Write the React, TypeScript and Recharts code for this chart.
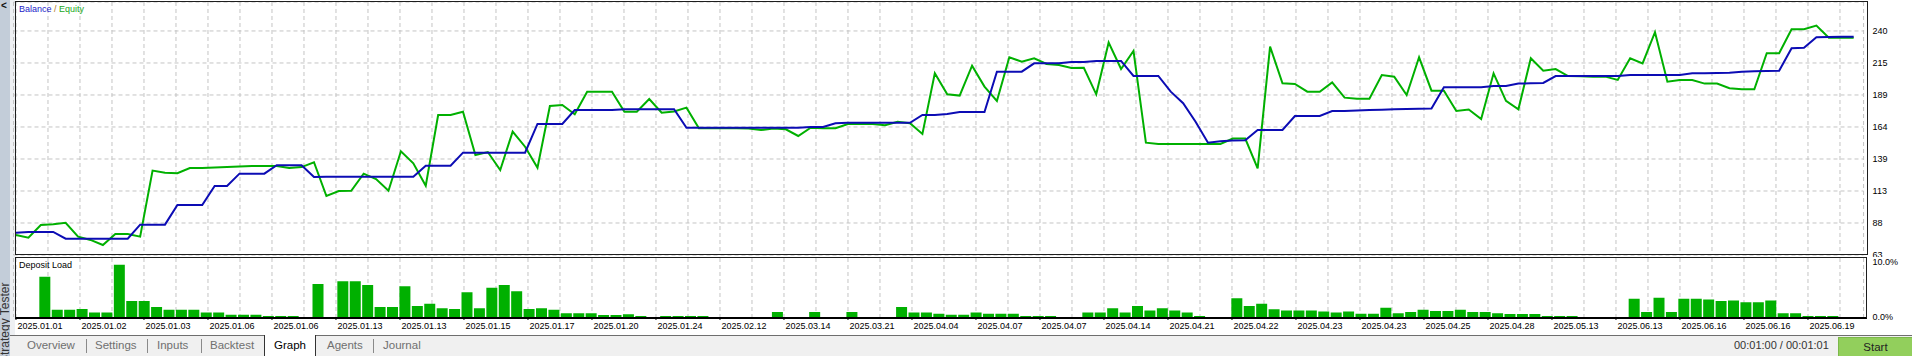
import React from 'react';
import { LineChart, ComposedChart, Line, Bar, XAxis, YAxis, CartesianGrid } from 'recharts';

// ---------- data ----------
const BALANCE = [
  80.6, 81.2, 81.2, 81.2, 75.9, 75.9, 75.9, 75.9, 75.9, 75.9,
  87, 87, 87, 102.5, 102.5, 102.5, 117.5, 117.5, 127.3, 127.3,
  127.3, 134, 134, 134, 124.7, 124.8, 124.8, 124.8, 124.8, 124.8,
  124.8, 124.8, 124.8, 133.6, 133.6, 133.6, 143.9, 143.9, 143.9, 143.9,
  143.9, 143.9, 166.6, 166.6, 166.6, 177.6, 177.6, 177.6, 177.6, 178.3,
  178.3, 178.3, 178.3, 178.3, 163.6, 163.6, 163.6, 163.6, 163.6, 163.6,
  163.6, 163.6, 163.6, 163.6, 164.2, 164.2, 167.1, 167.5, 167.5, 167.5,
  167.5, 167.5, 167.5, 173.7, 173.7, 174.5, 176, 176, 176, 207.9,
  207.9, 207.9, 214.5, 214.5, 214.5, 215.6, 215.6, 216.4, 216.4, 216.4,
  204.5, 204.5, 204.5, 192.1, 183, 168.4, 151.8, 153, 153.5, 153.7,
  161.8, 161.8, 161.8, 172.9, 172.9, 172.9, 176.8, 176.8, 177.2, 177.6,
  177.8, 178.2, 178.5, 178.7, 178.9, 195.6, 195.6, 195.6, 195.6, 196.6,
  196.6, 198.5, 198.7, 199, 204.5, 204.5, 204.5, 204.5, 204.5, 204.5,
  205.3, 205.3, 205.3, 205.3, 205.3, 206.6, 206.6, 206.8, 207, 207.9,
  208.3, 208.5, 208.7, 226.4, 226.8, 235.1, 235.4, 235.5, 235.6,
];

const EQUITY = [
  78.8, 76.7, 86.7, 87.3, 88.5, 77.5, 74.9, 70.9, 79.6, 79.6,
  77.5, 129.7, 128, 127.6, 131.8, 131.8, 132.2, 132.5, 133, 133.4,
  133.4, 133.4, 131.8, 132.5, 136.3, 109.6, 113.6, 113.8, 127.3, 123,
  113.8, 145, 135.5, 117.8, 173.7, 173.7, 176.3, 142, 144.4, 130.2,
  160.5, 148.6, 132, 180.8, 181.6, 174.2, 192.1, 192.1, 192.1, 176.3,
  176.3, 186.3, 175.5, 176.5, 179.5, 163.2, 163.2, 163.2, 163.2, 163,
  161.8, 163, 162.4, 157.1, 163.6, 163.2, 163.2, 166.6, 166.6, 166.6,
  165.6, 168.4, 167.1, 158.7, 206.6, 190, 189, 212.7, 196.1, 184.8,
  219.3, 215.8, 218.5, 214, 213.2, 210.8, 211, 190, 230.9, 210,
  224.3, 151.8, 150.8, 150.8, 150.8, 150.8, 150.8, 150.8, 155, 155,
  131.5, 227.7, 198.7, 198.2, 192.1, 192.1, 199.5, 187.4, 186.6, 186.6,
  205.3, 204, 189.5, 219.3, 192.9, 192.9, 176.8, 178, 170.5, 206.6,
  184.8, 178.2, 218.5, 208.7, 210, 204.5, 204.3, 204, 204, 201.4,
  218.5, 214.5, 239.1, 200, 201.4, 201.4, 198.5, 198.5, 194.8, 194,
  194, 222.5, 222.5, 241.4, 241.4, 244.3, 234.8, 234.8, 234.8,
];

const LOAD = [
  0, 0, 7.3, 1.3, 1.3, 1.45, 0.8, 0.8, 9.5, 2.9,
  2.9, 1.8, 1.3, 1.3, 1.3, 0.8, 0.8, 0.4, 0.4, 0.4,
  0.2, 0.2, 0.2, 0, 6.0, 0, 6.5, 6.5, 5.8, 1.8,
  1.8, 5.6, 2.0, 2.4, 1.6, 1.45, 4.5, 1.6, 5.3, 5.8,
  4.7, 1.45, 1.6, 1.3, 0.7, 0.7, 0.7, 0.35, 0.35, 0.5,
  0.2, 0, 0.2, 0.2, 0.2, 0.2, 0, 0, 0, 0,
  0, 0.9, 0, 0, 0.9, 0, 0, 0.9, 0, 0,
  0, 1.8, 0.8, 0.8, 0.6, 0.4, 0.4, 0.8, 0.6, 0.6,
  0.6, 0.2, 0.2, 0.2, 0, 0, 0.8, 0.8, 1.6, 0.8,
  2.0, 1.2, 1.6, 1.2, 0.8, 0.2, 0, 0, 3.4, 2.0,
  2.4, 1.4, 1.2, 1.2, 1.2, 1.0, 0.8, 1.0, 0.6, 0.6,
  1.7, 0.7, 0.9, 1.3, 1.1, 1.1, 1.3, 0.9, 0.9, 0.7,
  0.55, 0.55, 0.55, 0.2, 0.2, 0.2, 0, 0, 0, 0,
  3.3, 0.9, 3.5, 0.9, 3.3, 3.3, 3.2, 2.9, 3.0, 2.7,
  2.7, 3.0, 0.7, 0.7, 0.2, 0.2, 0.2, 0, 0,
];

const DATE_LABELS = [
  '2025.01.01', '2025.01.02', '2025.01.03', '2025.01.06', '2025.01.06', '2025.01.13',
  '2025.01.13', '2025.01.15', '2025.01.17', '2025.01.20', '2025.01.24', '2025.02.12',
  '2025.03.14', '2025.03.21', '2025.04.04', '2025.04.07', '2025.04.07', '2025.04.14',
  '2025.04.21', '2025.04.22', '2025.04.23', '2025.04.23', '2025.04.25', '2025.04.28',
  '2025.05.13', '2025.06.13', '2025.06.16', '2025.06.16', '2025.06.19',
];

const Y_TICK_LABELS = ['63', '88', '113', '139', '164', '189', '215', '240'];
const Y_MIN = 63;
const Y_STEP = 25.3;
const Y_MAX = 263.0;
const LOAD_TICKS = [0, 10];
const LOAD_TICK_LABELS = ['0.0%', '10.0%'];
const LOAD_MAX = 10.73;

const TABS = ['Overview', 'Settings', 'Inputs', 'Backtest', 'Graph', 'Agents', 'Journal'];
const TAB_X = [27, 95, 157, 210, 274, 327, 383];
const SEP_X = [86, 147, 201, 373];

// ---------- layout ----------
const W = 1912;
const H = 356;
const N = BALANCE.length;
const PX_PER_DEAL = 12.4167;
const PLOT_LEFT = 13.5;
const PLOT_W = N * PX_PER_DEAL;
const RIGHT_W = W - PLOT_LEFT - PLOT_W;
const X_DOMAIN: [number, number] = [-0.2, N - 0.2];
const GRID_STEP = 32 / PX_PER_DEAL;
const GRID_TICKS = Array.from({ length: 58 }, (_, k) => k * GRID_STEP);
const Y_TICKS = Y_TICK_LABELS.map((_, k) => Y_MIN + Y_STEP * k);

const FONT = '"Liberation Sans", Arial, sans-serif';
const BLUE = '#0c0cb4';
const GREEN = '#00b000';
const GRID = '#c4c4c4';

const mainData = BALANCE.map((b, i) => ({ i, balance: b, equity: EQUITY[i] }));
const loadData = LOAD.map((v, i) => ({ i, load: v }));

const DateTick = (props: any) => {
  const { x, y, index } = props;
  if (index % 2 !== 0) return <g />;
  const label = DATE_LABELS[index / 2];
  if (!label) return <g />;
  return (
    <g>
      <line x1={x} y1={y} x2={x} y2={y + 3} stroke="#000" strokeWidth={1} />
      <text x={x + 1.5} y={y + 12} fontSize={9} fill="#000" textAnchor="start" fontFamily={FONT}>
        {label}
      </text>
    </g>
  );
};

const abs = (s: React.CSSProperties): React.CSSProperties => ({ position: 'absolute', ...s });

export default function App() {
  return (
    <div style={abs({ position: 'fixed', left: 0, top: 0, width: W, height: H, background: '#fff', overflow: 'hidden', fontFamily: FONT })}>
      {/* left strip */}
      <div style={abs({ left: 0, top: 0, width: 10, height: H, background: '#c3cdd9', overflow: 'hidden' })}>
        <div style={abs({ left: 1, top: 0, fontSize: 10, fontWeight: 'bold', color: '#111', lineHeight: '12px' })}>&lt;</div>
        <div style={abs({ left: -2, top: 363, transform: 'rotate(-90deg)', transformOrigin: 'left top', whiteSpace: 'nowrap', fontSize: 12, lineHeight: '14px', color: '#333' })}>
          Strategy Tester
        </div>
      </div>
      <div style={abs({ left: 10, top: 0, width: 5, height: 335, background: '#eef0f3' })} />

      {/* main chart */}
      <div style={abs({ left: 0, top: 0 })}>
        <LineChart width={W} height={257} data={mainData} margin={{ top: 2, right: 0, bottom: 2, left: PLOT_LEFT }}>
          <CartesianGrid stroke={GRID} strokeDasharray="4 3" />
          <XAxis dataKey="i" type="number" domain={X_DOMAIN} ticks={GRID_TICKS} interval={0} allowDataOverflow hide height={0} />
          <YAxis
            orientation="right"
            width={RIGHT_W}
            domain={[Y_MIN, Y_MAX]}
            ticks={Y_TICKS}
            interval={0}
            allowDataOverflow
            axisLine={false}
            tickLine={false}
            tickSize={4}
            tickMargin={5}
            tick={{ fontSize: 9, fill: '#000', fontFamily: FONT }}
            tickFormatter={(_v: any, idx: number) => Y_TICK_LABELS[idx]}
          />
          <Line type="linear" dataKey="equity" stroke={GREEN} strokeWidth={2} dot={false} isAnimationActive={false} />
          <Line type="linear" dataKey="balance" stroke={BLUE} strokeWidth={2} dot={false} isAnimationActive={false} />
        </LineChart>
      </div>
      <div style={abs({ left: 15, top: 1, width: 1853, height: 254, boxSizing: 'border-box', border: '1px solid #1e1e1e', pointerEvents: 'none' })} />
      <div style={abs({ left: 19, top: 4, fontSize: 9, lineHeight: '11px', whiteSpace: 'nowrap' })}>
        <span style={{ color: '#2323c8' }}>Balance</span>
        <span style={{ color: '#b07820' }}> / </span>
        <span style={{ color: '#1aa81a' }}>Equity</span>
      </div>

      {/* deposit load */}
      <div style={abs({ left: 0, top: 256 })}>
        <ComposedChart width={W} height={79} data={loadData} margin={{ top: 2, right: 0, bottom: 0, left: PLOT_LEFT }}>
          <CartesianGrid xAxisId="deal" horizontal={false} stroke={GRID} strokeDasharray="4 3" />
          <XAxis
            xAxisId="deal"
            dataKey="i"
            type="number"
            domain={X_DOMAIN}
            ticks={GRID_TICKS}
            interval={0}
            allowDataOverflow
            height={18}
            axisLine={false}
            tickLine={false}
            tickSize={0}
            tickMargin={0}
            tick={<DateTick />}
          />
          <XAxis xAxisId="cat" dataKey="i" type="category" hide height={0} />
          <YAxis
            orientation="right"
            width={RIGHT_W}
            domain={[0, LOAD_MAX]}
            ticks={LOAD_TICKS}
            interval={0}
            allowDataOverflow
            axisLine={false}
            tickLine={false}
            tickSize={4}
            tickMargin={5}
            tick={{ fontSize: 9, fill: '#000', fontFamily: FONT }}
            tickFormatter={(_v: any, idx: number) => LOAD_TICK_LABELS[idx]}
          />
          <Bar xAxisId="cat" dataKey="load" fill={GREEN} barSize={11} isAnimationActive={false} />
        </ComposedChart>
      </div>
      <div style={abs({ left: 15, top: 257, width: 1852, height: 62, boxSizing: 'border-box', borderLeft: '1px solid #1e1e1e', borderTop: '1px solid #1e1e1e', borderRight: '1px solid #1e1e1e', borderBottom: '2px solid #000', pointerEvents: 'none' })} />
      <div style={abs({ left: 19, top: 260, fontSize: 9, lineHeight: '11px', color: '#000' })}>Deposit Load</div>

      {/* bottom bar */}
      <div style={abs({ left: 10, top: 335, width: W - 10, height: 21, background: '#f0f0f0', borderTop: '1px solid #6e6e6e', boxSizing: 'border-box' })} />
      <div style={abs({ left: 264, top: 335, width: 52, height: 24, background: '#fff', border: '1px solid #333', borderTop: 'none', boxSizing: 'border-box' })} />
      {TABS.map((t, k) => (
        <div key={t} style={abs({ left: TAB_X[k], top: 338, fontSize: 11.5, lineHeight: '14px', color: t === 'Graph' ? '#000' : '#6f6f6f', whiteSpace: 'nowrap' })}>{t}</div>
      ))}
      {SEP_X.map((x) => (
        <div key={x} style={abs({ left: x, top: 339, width: 1, height: 14, background: '#8a8a8a' })} />
      ))}
      <div style={abs({ left: 1734, top: 338, fontSize: 11, lineHeight: '14px', color: '#333', whiteSpace: 'nowrap' })}>00:01:00 / 00:01:01</div>
      <div style={abs({ left: 1838, top: 337, width: 74, height: 19, background: '#92cf5c', borderLeft: '1px solid #7cb84a', borderTop: '1px solid #7cb84a', boxSizing: 'border-box', textAlign: 'center', fontSize: 11.5, lineHeight: '18px', color: '#222' })}>Start</div>
    </div>
  );
}
